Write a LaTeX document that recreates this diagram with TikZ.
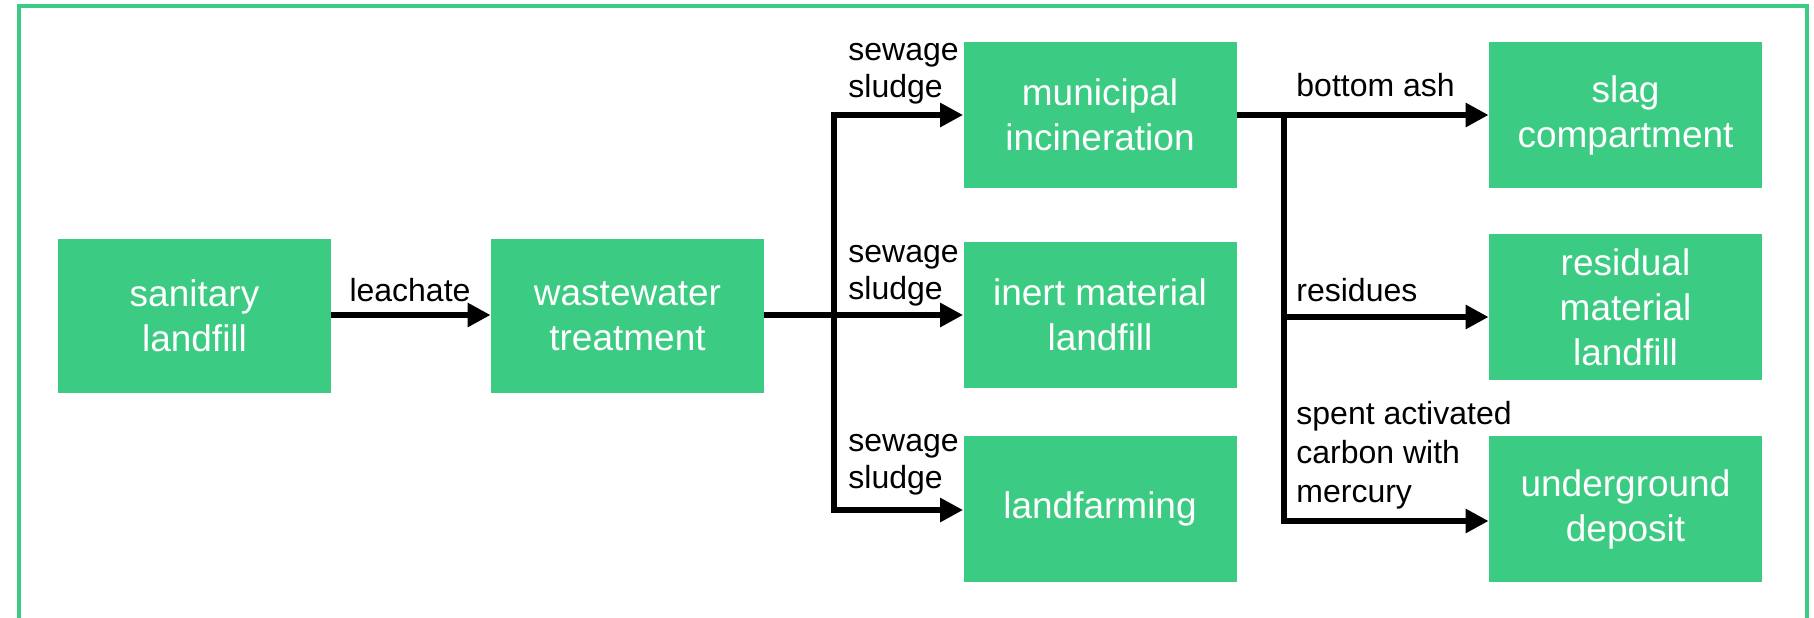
\documentclass[tikz,border=0pt]{standalone}
\usepackage{fontspec}
\setmainfont{Liberation Sans}
\usetikzlibrary{arrows.meta}
\definecolor{boxgreen}{HTML}{3CCB82}
\begin{document}
\begin{tikzpicture}[x=0.5pt,y=-0.5pt,
 box/.style={fill=boxgreen, text=white, inner sep=0pt, minimum width=136.5pt, minimum height=73pt, align=center, font=\fontsize{18.5}{22.5}\selectfont},
 lbl/.style={inner sep=0pt, align=left, font=\fontsize{16}{18.6}\selectfont},
 flow/.style={line width=3.3pt, -{Triangle[length=11.5pt,width=11.5pt]}},
 trunk/.style={line width=3pt, line cap=rect},
 frame/.style={draw=boxgreen, line width=2pt}]
\useasboundingbox (0,0) rectangle (1814,617);
% frame
\draw[frame] (19,630) -- (19,6.3) -- (1807,6.3) -- (1807,630);
% boxes
\node[box, minimum height=77pt] (san) at (194.5,316) {sanitary\\landfill};
\node[box, minimum height=77pt] (ww) at (627.5,316) {wastewater\\treatment};
\node[box] (mun) at (1100,115) {municipal\\incineration};
\node[box] (inert) at (1100,315) {inert material\\landfill};
\node[box] (land) at (1100,509) {landfarming};
\node[box] (slag) at (1625.5,115) {slag\\compartment};
\node[box] (res) at (1625.5,307) {residual\\material\\landfill};
\node[box] (und) at (1625.5,509) {underground\\deposit};
% junctions
\coordinate (j0) at (331,315);
\coordinate (j1) at (834,315);
\coordinate (j1t) at (834,115);
\coordinate (j1b) at (834,510);
\coordinate (j2t) at (1284,115);
\coordinate (j2m) at (1284,317);
\coordinate (j2b) at (1284,521);
% connectors
\draw[flow] (j0 -| san.east) -- (j0 -| ww.west);
\draw[trunk] (j1t) -- (j1b);
\draw[line width=3.3pt] (j1 -| ww.east) -- (j1);
\draw[flow] (j1t) -- (mun.west);
\draw[flow] (j1) -- (inert.west);
\draw[flow] (j1b) -- (j1b -| land.west);
\draw[trunk] (j2t) -- (j2b);
\draw[flow] (mun) -- (slag);
\draw[flow] (j2m) -- (j2m -| res.west);
\draw[flow] (j2b) -- (j2b -| und.west);
% labels
\node[lbl, anchor=base] (lleach) at (410,301) {leachate};
\node[lbl, anchor=south west] (ls1) at (848,105) {sewage\\sludge};
\node[lbl, anchor=south west] (ls2) at (848,307) {sewage\\sludge};
\node[lbl, anchor=south west] (ls3) at (848,496) {sewage\\sludge};
\node[lbl, anchor=base west] (lash) at (1296,96) {bottom ash};
\node[lbl, anchor=base west] (lres) at (1296,301) {residues};
\node[lbl, anchor=south west, font=\fontsize{16}{19.5}\selectfont] (lspent) at (1296,510) {spent activated\\carbon with\\mercury};
\end{tikzpicture}
\end{document}
